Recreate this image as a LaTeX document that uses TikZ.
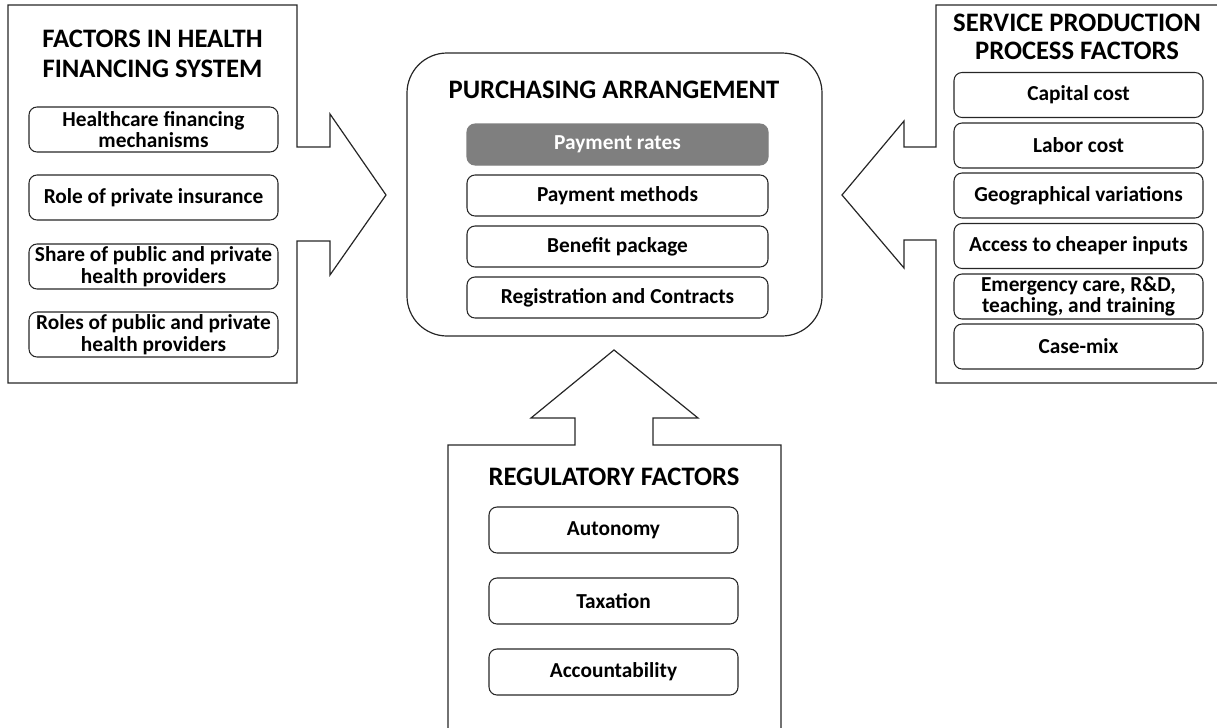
\documentclass[tikz,border=0pt]{standalone}
\usepackage{fontspec}
\setmainfont{Carlito}
\usetikzlibrary{positioning}
\definecolor{rategray}{HTML}{7F7F7F}

\begin{document}
\begin{tikzpicture}[
  x=0.75pt, y=-0.75pt,
  every node/.style={font=\bfseries\fontsize{16}{16.2}\selectfont},
  callout/.style={draw=black!85, line width=0.9pt, line join=miter},
  hub/.style={draw=black!85, line width=0.9pt, rounded corners=30pt, minimum width=311.25pt, minimum height=212.25pt, inner sep=0pt},
  item/.style={draw=black!85, line width=0.8pt, rounded corners=6pt, minimum width=#1, minimum height=33.75pt, align=center, inner sep=0pt},
  item/.default=186.75pt,
  pay/.style={item=225.75pt, minimum height=30.75pt},
  head/.style={font=\bfseries\fontsize{20}{23}\selectfont, align=center, inner sep=0pt}
]
\useasboundingbox (0,0) rectangle (1217,728);

% financing system factors
\draw[callout] (8,5) -- (297,5) -- (297,147) -- (330,147) -- (330,114) -- (386,195)
  -- (330,275) -- (330,241) -- (297,241) -- (297,383) -- (8,383) -- cycle;
\node[head] (fin) at (152.5,54) {FACTORS IN HEALTH\\FINANCING SYSTEM};
\node[item] (mech)  at (153.5,129.5) {Healthcare financing\\mechanisms};
\node[item] (ins)   at (153.5,197.5) {Role of private insurance};
\node[item] (share) at (153.5,266.5) {Share of public and private\\health providers};
\node[item] (roles) at (153.5,334.5) {Roles of public and private\\health providers};

% service production factors
\draw[callout] (1218,5) -- (936,5) -- (936,147) -- (904,147) -- (904,121) -- (842,195)
  -- (904,268) -- (904,240) -- (936,240) -- (936,383) -- (1218,383);
\node[head, font=\bfseries\fontsize{20}{20.5}\selectfont] (serv) at (1077,37) {SERVICE PRODUCTION\\PROCESS FACTORS};
\node[item] (cap)   at (1078.5,95)    {Capital cost};
\node[item] (lab)   at (1078.5,145.5) {Labor cost};
\node[item] (geo)   at (1078.5,195.5) {Geographical variations};
\node[item] (inp)   at (1078.5,246)   {Access to cheaper inputs};
\node[item] (emer)  at (1078.5,296.5) {Emergency care, R\&D,\\teaching, and training};
\node[item] (cmix)  at (1078.5,346.5) {Case-mix};

% purchasing arrangement
\node[hub] (purch) at (614.5,194.5) {};
\node[head] (arr) at (614,90) {PURCHASING ARRANGEMENT};
\node[pay, draw=rategray, fill=rategray, text=white] (rate) at (617.5,144.5) {Payment rates};
\node[pay] (meth) at (617.5,195.5) {Payment methods};
\node[pay] (ben)  at (617.5,246.5) {Benefit package};
\node[pay] (reg)  at (617.5,297.5) {Registration and Contracts};

% regulatory factors
\draw[callout] (448,730) -- (448,445) -- (575,445) -- (575,418) -- (531,418) -- (614,350)
  -- (698,418) -- (653,418) -- (653,445) -- (781,445) -- (781,730);
\node[head] (regf) at (614,477) {REGULATORY FACTORS};
\node[item, minimum height=34.5pt] (auto) at (613.5,530) {Autonomy};
\node[item, minimum height=34.5pt] (tax)  at (613.5,601) {Taxation};
\node[item, minimum height=34.5pt] (acc)  at (613.5,672) {Accountability};
\end{tikzpicture}
\end{document}
